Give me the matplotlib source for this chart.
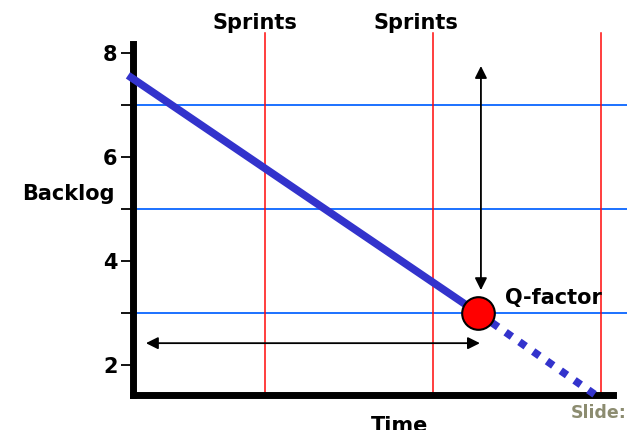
import matplotlib
matplotlib.use("Agg")
import matplotlib.pyplot as plt
from matplotlib.ticker import FixedLocator, NullFormatter

# ---- data ----
sprint_x = [0.786, 1.786, 2.786]          # sprint boundaries (red lines)
level_y = [3, 5, 7]                        # backlog levels (blue lines)
backlog_x = [-0.03, 2.054]                 # actual burndown
backlog_y = [7.57, 3.0]
projection_x = [2.054, 2.75]               # projected burndown
projection_y = [3.0, 1.43]
q_x, q_y = 2.054, 3.0                      # Q-factor point
major_ticks = [2, 4, 6, 8]
minor_ticks = [3, 5, 7]
sprint_labels = ["Sprints", "Sprints"]

plt.rcParams['font.family'] = ['DejaVu Sans']
W, H = 627, 430
fig = plt.figure(figsize=(W / 100, H / 100), dpi=100)
ax = fig.add_axes([133 / W, 35 / H, 480 / W, 351 / H])
ax.set_xlim(0, 480 / 168)
ax.set_ylim(8 - 342 / 52, 8 + 9 / 52)

for s in ['top', 'right']:
    ax.spines[s].set_visible(False)
for s in ['left', 'bottom']:
    ax.spines[s].set_linewidth(5)
    ax.spines[s].set_color('black')
    ax.spines[s].set_capstyle('projecting')

ax.xaxis.set_visible(False)
ax.yaxis.set_major_locator(FixedLocator(major_ticks))
ax.yaxis.set_minor_locator(FixedLocator(minor_ticks))
ax.yaxis.set_minor_formatter(NullFormatter())
ax.tick_params(axis='y', which='both', length=9, width=1.3, direction='out', pad=2,
               labelsize=15)
for lab in ax.get_yticklabels():
    lab.set_fontweight('bold')

# blue horizontal level lines (extend past the axis to the image edge)
for y in level_y:
    ax.plot([0, 2.95], [y, y], color='#0a66ff', lw=1.3, clip_on=False, zorder=1)
# red vertical sprint lines (extend above the axis)
for x in sprint_x:
    ax.plot([x, x], [ax.get_ylim()[0], 8.385], color='#ff0a0a', lw=1.1,
            clip_on=False, zorder=1)

# burndown
ax.plot(backlog_x, backlog_y, color='#3333cc', lw=5.5, solid_capstyle='butt',
        zorder=3, clip_on=False)
ax.plot(projection_x, projection_y, color='#3333cc', lw=5.5, linestyle=(0, (1, 1.2)),
        dash_capstyle='butt', zorder=3, clip_on=False)

# arrows
ax.annotate('', xy=(2.071, 7.75), xytext=(2.071, 3.44),
            arrowprops=dict(arrowstyle='<|-|>', color='black', lw=1.3,
                            mutation_scale=18, shrinkA=0, shrinkB=0))
ax.annotate('', xy=(0.077, 2.42), xytext=(2.065, 2.42),
            arrowprops=dict(arrowstyle='<|-|>', color='black', lw=1.3,
                            mutation_scale=18, shrinkA=0, shrinkB=0))

# Q-factor point
ax.plot([q_x], [q_y], marker='o', markersize=23.5, markerfacecolor='#ff0000',
        markeredgecolor='black', markeredgewidth=1.5, zorder=5, clip_on=False)

# texts
fs = 15
fig.text(255 / W, 1 - 23 / H, sprint_labels[0], ha='center', va='center',
         fontsize=fs, fontweight='bold')
fig.text(416 / W, 1 - 23 / H, sprint_labels[1], ha='center', va='center',
         fontsize=fs, fontweight='bold')
fig.text(68 / W, 1 - 194 / H, 'Backlog', ha='center', va='center',
         fontsize=fs, fontweight='bold')
fig.text(505 / W, 1 - 298 / H, 'Q-factor', ha='left', va='center',
         fontsize=fs, fontweight='bold')
fig.text(400 / W, 1 - 416 / H, 'Time', ha='center', va='top',
         fontsize=fs, fontweight='bold')
fig.text(1.0, 1 - 413 / H, 'Slide:', ha='right', va='center',
         fontsize=12.5, fontweight='bold', color='#8c8c70')

fig.savefig('out.png', dpi=100)
